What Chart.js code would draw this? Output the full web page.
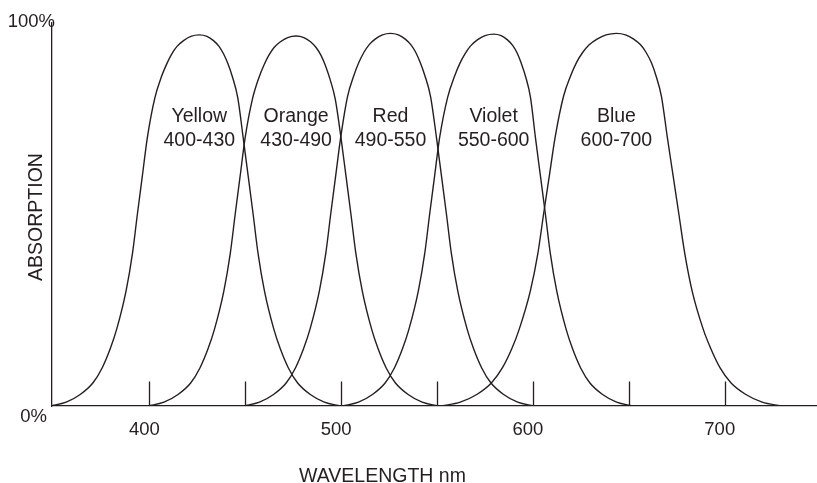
<!DOCTYPE html>
<html>
<head>
<meta charset="utf-8">
<title>Absorption by wavelength</title>
<script src="https://cdn.jsdelivr.net/npm/chart.js@4/dist/chart.umd.min.js"></script>
<style>
  html, body { margin: 0; padding: 0; background: #ffffff; }
  #wrap { width: 817px; height: 483px; }
</style>
</head>
<body>
<div id="wrap"><canvas id="chart" width="817" height="483"></canvas></div>
<script>
// Absorption curves: wavelength (nm) and absorption (%) for each band
const yellowNm = [348.3, 356.6, 363.9, 370.5, 375.4, 379.6, 382.9, 387.8, 391.2, 393.7, 396.3, 398.9,
                  402.8, 406.2, 409.1, 411.6, 414.4, 417.8, 421.6, 426.0, 430.0, 433.4, 436.3, 438.7, 440.9, 443.3, 446.1,
                  448.9, 451.5, 454.1, 456.6, 460.0, 464.9, 468.2, 472.4, 477.3, 483.9, 491.2, 499.5];
const yellowPct = [0, 1, 3, 6, 10, 15, 20, 30, 40, 50, 60, 70,
                   80.4, 85.9, 89.4, 91.9, 93.9, 95.4, 96.5, 96.9, 96.5, 95.4, 93.9, 91.9, 89.4, 85.9, 80.4,
                   70, 60, 50, 40, 30, 20, 15, 10, 6, 3, 1, 0];

const orangeNm = [399.3, 407.6, 414.9, 421.5, 426.4, 430.6, 433.9, 438.8, 442.2, 444.7, 447.3, 449.9,
                  453.7, 457.0, 459.8, 462.3, 465.0, 468.3, 472.1, 476.5, 480.5, 484.0, 486.9, 489.4, 491.6, 494.0, 496.9,
                  499.9, 502.5, 505.1, 507.6, 511.0, 515.9, 519.2, 523.4, 528.3, 534.9, 542.2, 550.5];
const orangePct = [0, 1, 3, 6, 10, 15, 20, 30, 40, 50, 60, 70,
                   80.1, 85.6, 89.1, 91.6, 93.6, 95.1, 96.2, 96.6, 96.2, 95.1, 93.6, 91.6, 89.1, 85.6, 80.1,
                   70, 60, 50, 40, 30, 20, 15, 10, 6, 3, 1, 0];

const redNm = [449.1, 457.4, 464.7, 471.3, 476.2, 480.4, 483.7, 488.6, 492.0, 494.5, 497.1, 499.7,
               503.3, 506.6, 509.3, 511.8, 514.5, 517.7, 521.5, 525.7, 529.8, 533.4, 536.4, 538.9, 541.1, 543.6, 546.6,
               549.7, 552.3, 554.9, 557.4, 560.8, 565.7, 569.0, 573.2, 578.1, 584.7, 592.0, 600.3];
const redPct = [0, 1, 3, 6, 10, 15, 20, 30, 40, 50, 60, 70,
                80.8, 86.3, 89.8, 92.3, 94.3, 95.8, 96.9, 97.3, 96.9, 95.8, 94.3, 92.3, 89.8, 86.3, 80.8,
                70, 60, 50, 40, 30, 20, 15, 10, 6, 3, 1, 0];

const violetNm = [500.7, 509.0, 516.3, 522.9, 527.8, 532.0, 535.3, 540.2, 543.6, 546.1, 548.7, 551.3,
                  555.5, 559.1, 562.0, 564.7, 567.6, 571.0, 575.0, 579.5, 583.4, 586.7, 589.5, 591.8, 593.8, 596.1, 598.7,
                  601.3, 603.9, 606.5, 609.0, 612.4, 617.3, 620.6, 624.8, 629.7, 636.3, 643.6, 651.9];
const violetPct = [0, 1, 3, 6, 10, 15, 20, 30, 40, 50, 60, 70,
                   80.6, 86.1, 89.6, 92.1, 94.1, 95.6, 96.7, 97.1, 96.7, 95.6, 94.1, 92.1, 89.6, 86.1, 80.6,
                   70, 60, 50, 40, 30, 20, 15, 10, 6, 3, 1, 0];

const blueNm = [552.4, 562.1, 570.7, 578.3, 584.1, 589.0, 592.8, 598.6, 602.6, 605.5, 608.5, 611.5,
                615.9, 619.7, 622.8, 625.9, 629.3, 633.4, 638.1, 643.5, 648.3, 652.5, 656.1, 659.0, 661.6, 664.1, 667.0,
                670.1, 673.1, 676.1, 679.1, 683.0, 688.8, 692.7, 697.5, 703.3, 711.0, 719.5, 729.3];
const bluePct = [0, 1, 3, 6, 10, 15, 20, 30, 40, 50, 60, 70,
                 80.8, 86.3, 89.8, 92.3, 94.3, 95.8, 96.9, 97.3, 96.9, 95.8, 94.3, 92.3, 89.8, 86.3, 80.8,
                 70, 60, 50, 40, 30, 20, 15, 10, 6, 3, 1, 0];

// Band names and their wavelength ranges
const bandNames = ['Yellow', 'Orange', 'Red', 'Violet', 'Blue'];
const bandRanges = ['400-430', '430-490', '490-550', '550-600', '600-700'];

// Axis ticks
const xTickLabels = [400, 500, 600, 700];
const xTickMarks = [400, 450, 500, 550, 600, 650, 700];
const yEndLabels = ['0%', '100%'];

const INK = '#231f20';
const FONT = '"Liberation Sans", Arial, Helvetica, sans-serif';

const curves = [
  [yellowNm, yellowPct],
  [orangeNm, orangePct],
  [redNm, redPct],
  [violetNm, violetPct],
  [blueNm, bluePct]
];

const datasets = curves.map(([nm, pct], i) => ({
  label: bandNames[i],
  data: nm.map((x, k) => ({ x: x, y: pct[k] })),
  borderColor: INK,
  borderWidth: 1.4,
  pointRadius: 0,
  fill: false,
  cubicInterpolationMode: 'monotone'
}));

// Upward tick marks, end labels, band labels and axis titles
const decorations = {
  id: 'decorations',
  afterDatasetsDraw(chart) {
    const ctx = chart.ctx;
    const xs = chart.scales.x;
    const ys = chart.scales.y;
    const area = chart.chartArea;
    ctx.save();

    // tick marks rising from the baseline
    ctx.strokeStyle = INK;
    ctx.lineWidth = 1.3;
    const base = ys.getPixelForValue(0);
    xTickMarks.forEach(v => {
      const px = Math.round(xs.getPixelForValue(v)) + 0.5;
      ctx.beginPath();
      ctx.moveTo(px, base);
      ctx.lineTo(px, base - 24.5);
      ctx.stroke();
    });

    ctx.fillStyle = INK;
    ctx.textBaseline = 'alphabetic';

    // 0% and 100% at the ends of the vertical axis
    ctx.font = '18.5px ' + FONT;
    ctx.textAlign = 'right';
    ctx.fillText(yEndLabels[0], area.left - 5, ys.getPixelForValue(0) + 16);
    ctx.fillText(yEndLabels[1], area.left + 3, ys.getPixelForValue(100) + 4);

    // band labels centred over each curve's peak
    ctx.font = '19.5px ' + FONT;
    ctx.textAlign = 'center';
    curves.forEach(([nm, pct], i) => {
      const peak = pct.indexOf(Math.max(...pct));
      const cx = xs.getPixelForValue(nm[peak]);
      ctx.fillText(bandNames[i], cx, ys.getPixelForValue(74.2));
      ctx.fillText(bandRanges[i], cx, ys.getPixelForValue(68.0));
    });

    // axis titles
    ctx.font = '19.5px ' + FONT;
    ctx.textAlign = 'center';
    ctx.fillText('WAVELENGTH nm', 382.5, 482);
    ctx.save();
    ctx.translate(42, 217);
    ctx.rotate(-Math.PI / 2);
    ctx.fillText('ABSORPTION', 0, 0);
    ctx.restore();

    ctx.restore();
  }
};

new Chart(document.getElementById('chart'), {
  type: 'line',
  data: { datasets: datasets },
  options: {
    responsive: false,
    animation: false,
    devicePixelRatio: 1,
    layout: { padding: { top: 23, left: 0, right: 0, bottom: 0 } },
    plugins: {
      legend: { display: false },
      tooltip: { enabled: false }
    },
    scales: {
      x: {
        type: 'linear',
        min: 349.2,
        max: 748.1,
        grid: { display: false },
        border: { display: true, color: INK, width: 1.3 },
        afterBuildTicks: s => { s.ticks = xTickLabels.map(v => ({ value: v })); },
        afterFit: s => { s.height = 77; },
        ticks: {
          autoSkip: false,
          maxRotation: 0,
          padding: 5,
          labelOffset: -5,
          color: INK,
          font: { family: FONT, size: 18.5 }
        }
      },
      y: {
        min: 0,
        max: 100,
        grid: { display: false },
        border: { display: true, color: INK, width: 1.3 },
        ticks: { display: false },
        afterFit: s => { s.width = 52; }
      }
    }
  },
  plugins: [decorations]
});
</script>
</body>
</html>
